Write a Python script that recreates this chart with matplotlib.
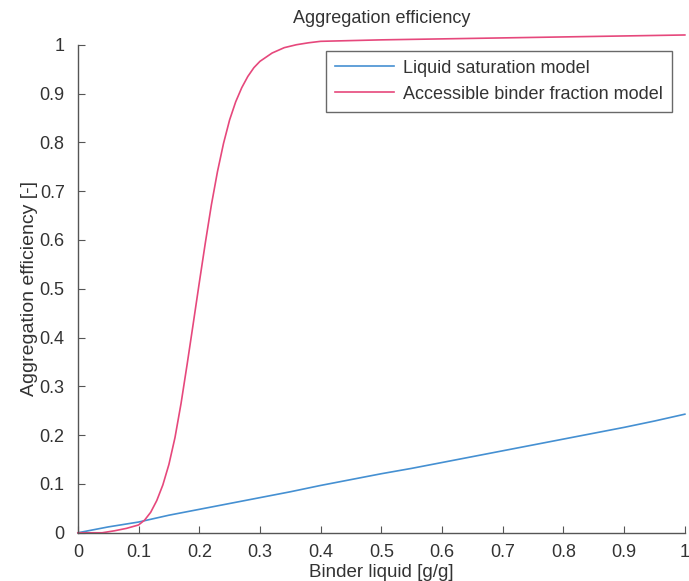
import matplotlib.pyplot as plt
import numpy as np

plt.rcParams['font.family'] = ['Liberation Sans', 'DejaVu Sans']

# binder liquid content [g/g]
x_sat = [0.0, 0.05, 0.1, 0.15, 0.2, 0.25, 0.3, 0.35, 0.4, 0.45, 0.5,
         0.55, 0.6, 0.65, 0.7, 0.75, 0.8, 0.85, 0.9, 0.95, 1.0]
# liquid saturation model
eff_sat = [0.0, 0.012, 0.022, 0.036, 0.048, 0.060, 0.072, 0.084, 0.097, 0.109, 0.121,
           0.132, 0.144, 0.156, 0.168, 0.180, 0.192, 0.204, 0.216, 0.229, 0.243]

x_abf = [0.0, 0.04, 0.06, 0.08, 0.10, 0.11, 0.12, 0.13, 0.14, 0.15, 0.16,
         0.17, 0.18, 0.19, 0.20, 0.21, 0.22, 0.23, 0.24, 0.25, 0.26,
         0.27, 0.28, 0.29, 0.30, 0.32, 0.34, 0.36, 0.38, 0.40, 0.50,
         0.60, 0.70, 0.80, 0.90, 1.00]
# accessible binder fraction model
eff_abf = [0.0, 0.0, 0.004, 0.009, 0.016, 0.026, 0.042, 0.066, 0.098, 0.140, 0.195,
           0.265, 0.345, 0.428, 0.512, 0.594, 0.672, 0.740, 0.798, 0.846, 0.883,
           0.912, 0.935, 0.953, 0.966, 0.983, 0.994, 1.000, 1.004, 1.007, 1.010,
           1.012, 1.014, 1.016, 1.018, 1.020]

xticks = np.round(np.arange(0, 1.01, 0.1), 1)
xticklabels = ['0', '0.1', '0.2', '0.3', '0.4', '0.5', '0.6', '0.7', '0.8', '0.9', '1']
yticklabels = ['0', '0.1', '0.2', '0.3', '0.4', '0.5', '0.6', '0.7', '0.8', '0.9', '1']

ink = '#333333'

fig = plt.figure(figsize=(6.89, 5.81), dpi=100)
ax = fig.add_axes([0.113, 0.083, 0.881, 0.840])

ax.plot(x_sat, eff_sat, color='#4590d2', lw=1.2, label='Liquid saturation model', clip_on=False)
ax.plot(x_abf, eff_abf, color='#e6487c', lw=1.2, label='Accessible binder fraction model', clip_on=False)

ax.set_xlim(0, 1)
ax.set_ylim(0, 1)
ax.set_xticks(xticks)
ax.set_xticklabels(xticklabels)
ax.set_yticks(xticks)
ax.set_yticklabels(yticklabels)

for side in ['top', 'right']:
    ax.spines[side].set_visible(False)
for side in ['left', 'bottom']:
    ax.spines[side].set_color('#555555')
    ax.spines[side].set_linewidth(1.0)

ax.tick_params(direction='in', length=5, width=0.8, color='#555555',
               labelsize=13, labelcolor=ink)
ax.tick_params(axis='y', pad=9.5)
ax.tick_params(axis='x', pad=8)

ax.set_title('Aggregation efficiency', fontsize=13, color=ink, pad=16)
ax.set_xlabel('Binder liquid [g/g]', fontsize=13.5, color=ink, labelpad=2)
ax.set_ylabel('Aggregation efficiency [-]', fontsize=14, color=ink, labelpad=1)

leg = ax.legend(loc='upper right', bbox_to_anchor=(0.979, 0.988), borderaxespad=0,
                fontsize=13, frameon=True, fancybox=False, handlelength=3.3,
                borderpad=0.5, labelspacing=0.5, handletextpad=0.5)
leg.get_frame().set_edgecolor('#444444')
leg.get_frame().set_linewidth(1.0)
for t in leg.get_texts():
    t.set_color(ink)

fig.savefig('out.png', dpi=100)
